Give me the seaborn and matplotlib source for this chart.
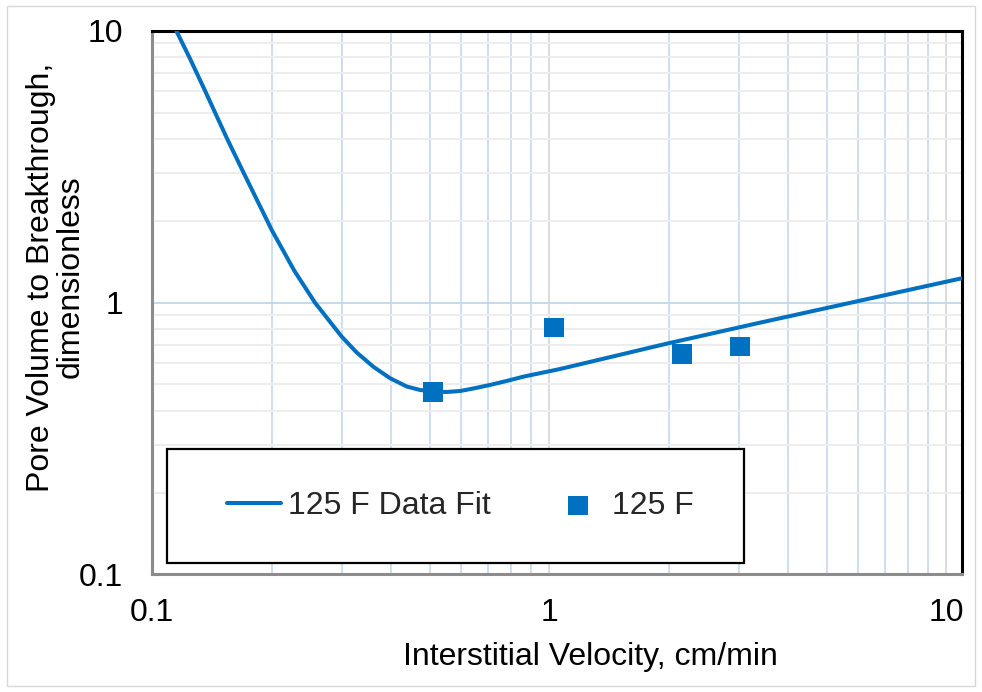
import matplotlib
matplotlib.use("Agg")
import matplotlib.pyplot as plt
import seaborn as sns
from matplotlib.ticker import FixedLocator, FixedFormatter, LogLocator, NullFormatter
from matplotlib.patches import Rectangle

# ---- data ----
fit_velocity = [0.115, 0.124, 0.136, 0.144, 0.1545, 0.170, 0.200, 0.228, 0.257,
                0.300, 0.3275, 0.3605, 0.3973, 0.438, 0.473, 0.511, 0.552,
                0.597, 0.644, 0.710, 0.782, 0.861, 1.066, 2.00, 3.40, 10.97]
fit_pv = [10.0, 8.0, 6.0, 5.0, 4.0, 3.0, 1.85, 1.31, 1.00,
          0.750, 0.655, 0.581, 0.527, 0.491, 0.477, 0.470, 0.469,
          0.473, 0.483, 0.498, 0.515, 0.534, 0.570, 0.709, 0.844, 1.230]
obs_velocity = [0.51, 1.03, 2.16, 3.03]
obs_pv = [0.470, 0.809, 0.647, 0.689]
x_ticks = [0.1, 1, 10]
x_tick_labels = ["0.1", "1", "10"]
y_ticks = [0.1, 1, 10]
y_tick_labels = ["0.1", "1", "10"]
fit_label = "125 F Data Fit"
obs_label = "125 F"
x_title = "Interstitial Velocity, cm/min"
y_title = "Pore Volume to Breakthrough,\ndimensionless"

BLUE = "#0070C0"
FS = 23

sns.set_theme(style="white")
plt.rcParams["font.family"] = ["Liberation Sans", "DejaVu Sans"]

fig = plt.figure(figsize=(9.82, 6.92), dpi=100)
ax = fig.add_axes([152.3 / 982, (692 - 574.3) / 692, (962 - 152.3) / 982, (574.3 - 31) / 692])

sns.lineplot(x=fit_velocity, y=fit_pv, ax=ax, color=BLUE, linewidth=2.9,
             label=fit_label, estimator=None, zorder=3)
ax.lines[-1].set_solid_joinstyle("round")
sns.scatterplot(x=obs_velocity, y=obs_pv, ax=ax, color=BLUE, marker="s", s=200,
                linewidth=0, edgecolor="none", label=obs_label, zorder=4)

ax.set_xscale("log")
ax.set_yscale("log")
ax.set_xlim(0.1, 10.97)
ax.set_ylim(0.1, 10)

ax.xaxis.set_major_locator(FixedLocator(x_ticks))
ax.xaxis.set_major_formatter(FixedFormatter(x_tick_labels))
ax.yaxis.set_major_locator(FixedLocator(y_ticks))
ax.yaxis.set_major_formatter(FixedFormatter(y_tick_labels))
ax.xaxis.set_minor_locator(LogLocator(base=10, subs=range(2, 10)))
ax.yaxis.set_minor_locator(LogLocator(base=10, subs=range(2, 10)))
ax.xaxis.set_minor_formatter(NullFormatter())
ax.yaxis.set_minor_formatter(NullFormatter())

ax.set_axisbelow(True)
ax.grid(which="major", axis="x", color="#D9D9D9", linewidth=1.3)
ax.grid(which="minor", axis="x", color="#C9DCF0", linewidth=1.3)
ax.grid(which="major", axis="y", color="#BDD7EE", linewidth=1.3)
ax.grid(which="minor", axis="y", color="#EDEDED", linewidth=1.5)

ax.tick_params(axis="both", which="both", length=0)
ax.tick_params(axis="x", which="major", labelsize=FS, pad=17, colors="black")
ax.tick_params(axis="y", which="major", labelsize=FS, pad=21, colors="black")

for side in ["top", "right"]:
    ax.spines[side].set_color("black")
    ax.spines[side].set_linewidth(2.2)
for side in ["left", "bottom"]:
    ax.spines[side].set_color("#8C8C8C")
    ax.spines[side].set_linewidth(2.2)

ax.set_xlabel(x_title, fontsize=FS, color="black", va="center")
ax.xaxis.set_label_coords(0.541, -0.152)
ax.set_ylabel(y_title, fontsize=FS, color="black", va="center", linespacing=1.0)
ax.yaxis.set_label_coords(-0.119, 0.547)

# legend box
box = Rectangle((0.0178, 0.0214), 0.713, 0.209, transform=ax.transAxes,
                facecolor="white", edgecolor="black", linewidth=1.6, zorder=4.5)
ax.add_patch(box)
handles, labels = ax.get_legend_handles_labels()
leg = ax.legend(handles, labels, loc="center", bbox_to_anchor=(0.0238, 0.0214, 0.713, 0.209),
                bbox_transform=ax.transAxes, ncol=2, frameon=False, fontsize=FS,
                handlelength=1.7, handletextpad=0.2, columnspacing=1.9)
leg.set_zorder(5)

fig.patches.append(Rectangle((7 / 982, 6 / 692), 968 / 982, 680 / 692, transform=fig.transFigure,
                             fill=False, edgecolor="#D9D9D9", linewidth=1.0))

fig.savefig("out.png", dpi=100)
